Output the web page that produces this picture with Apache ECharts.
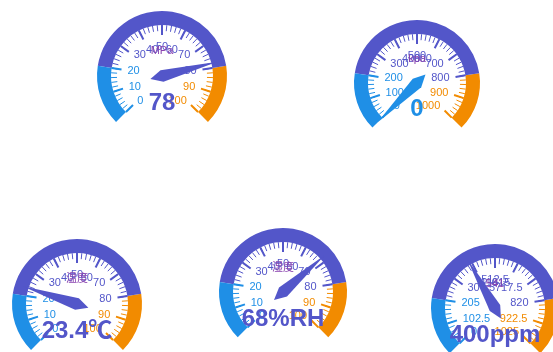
<!DOCTYPE html>
<html>
<head>
<meta charset="utf-8">
<script src="https://cdn.jsdelivr.net/npm/echarts@6/dist/echarts.min.js"></script>
<style>
  html, body { margin: 0; padding: 0; background: #fff; }
  #chart { width: 553px; height: 352px; }
</style>
</head>
<body>
<div id="chart"></div>
<script>
// gauge data
var gaugeNames = ["MPa", "kpa", "温度", "湿度", "541"];
var gaugeValues = [78, 0, 23.4, 68, 400];
var gaugeMax = [100, 1000, 100, 100, 1025];
var gaugeUnits = ["", "", "℃", "%RH", "ppm"];

// where each dial sits (px)
var layout = [
  { center: [162, 76], radius: 65 },
  { center: [417, 83], radius: 63 },
  { center: [77, 304], radius: 65 },
  { center: [283, 292], radius: 64 },
  { center: [495, 308], radius: 64 }
];

var bandColors = [
  [0.2, "#1f8fe6"],
  [0.8, "#5356c9"],
  [1, "#f28b00"]
];

var chart = echarts.init(document.getElementById("chart"));
var series = [];
for (var i = 0; i < gaugeValues.length; i++) {
  (function (i) {
    series.push({
      type: "gauge",
      center: layout[i].center,
      radius: layout[i].radius,
      startAngle: 225,
      endAngle: -45,
      min: 0,
      max: gaugeMax[i],
      splitNumber: 10,
      axisLine: { lineStyle: { width: 14, color: bandColors } },
      splitLine: { distance: 0, length: 10, lineStyle: { color: "auto", width: 2 } },
      axisTick: { distance: 0, length: 6, splitNumber: 5, lineStyle: { color: "auto", width: 1 } },
      axisLabel: { distance: 20, color: "auto", fontSize: 11, fontFamily: "Liberation Sans" },
      pointer: { length: "88%", width: 6, itemStyle: { color: "auto" } },
      anchor: { show: false },
      title: {
        offsetCenter: [0, "-38%"],
        color: "#8a44b0",
        fontSize: 11,
        fontFamily: "Liberation Sans, Noto Sans CJK SC"
      },
      detail: {
        offsetCenter: [0, "42%"],
        color: "auto",
        fontSize: 24,
        fontWeight: "bold",
        fontFamily: "Liberation Sans, Noto Sans CJK SC",
        formatter: function (v) {
          return v + gaugeUnits[i];
        }
      },
      animation: false,
      data: [{ value: gaugeValues[i], name: gaugeNames[i] }]
    });
  })(i);
}
chart.setOption({ series: series });
</script>
</body>
</html>
